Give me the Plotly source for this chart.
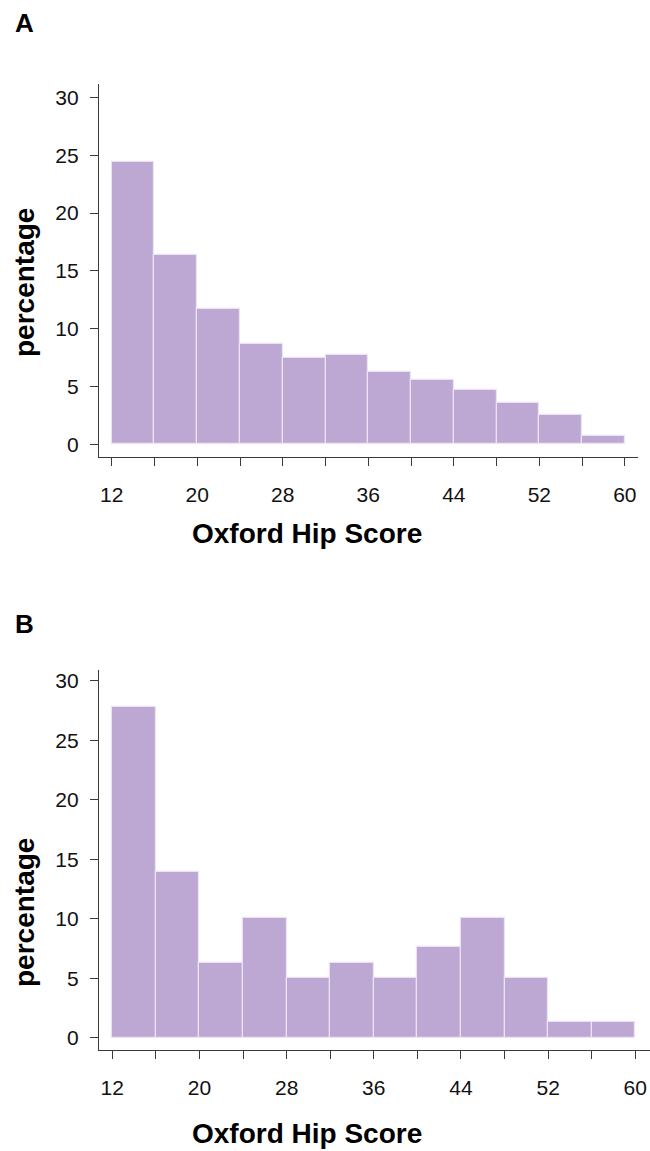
import plotly.graph_objects as go

W, H = 650, 1151

# Histogram bins (Oxford Hip Score), width 4
bin_left = [12, 16, 20, 24, 28, 32, 36, 40, 44, 48, 52, 56]
bin_width = 4

# Percentage of patients per bin
pct_a = [24.4, 16.4, 11.7, 8.7, 7.5, 7.7, 6.3, 5.6, 4.7, 3.6, 2.5, 0.7]
pct_b = [27.8, 13.9, 6.3, 10.1, 5.0, 6.3, 5.0, 7.6, 10.1, 5.0, 1.3, 1.3]

# Tick positions / labels
x_ticks = [12, 16, 20, 24, 28, 32, 36, 40, 44, 48, 52, 56, 60]
x_ticklabels = ["12", "", "20", "", "28", "", "36", "", "44", "", "52", "", "60"]
y_ticks = [0, 5, 10, 15, 20, 25, 30]

panel_labels = ["A", "B"]
x_title = "Oxford Hip Score"
y_title = "percentage"

BAR = "#bda7d3"
EDGE = "#ebe3f2"
AXIS = "#3a3a3a"
FONT = "Liberation Sans"

def px_x(p):
    return p / W

def px_y(p):
    return 1 - p / H

centers = [b + bin_width / 2 for b in bin_left]

fig = go.Figure()
fig.add_trace(go.Bar(x=centers, y=pct_a, width=bin_width, xaxis="x", yaxis="y",
                     marker=dict(color=BAR, line=dict(color=EDGE, width=1.2)),
                     showlegend=False))
fig.add_trace(go.Bar(x=centers, y=pct_b, width=bin_width, xaxis="x2", yaxis="y2",
                     marker=dict(color=BAR, line=dict(color=EDGE, width=1.2)),
                     showlegend=False))

common_x = dict(tickmode="array", tickvals=x_ticks, ticktext=x_ticklabels,
                ticks="outside", ticklen=8, tickwidth=1.2, tickcolor=AXIS,
                showline=True, linecolor=AXIS, linewidth=1.2,
                showgrid=False, zeroline=False, ticklabelstandoff=11,
                tickfont=dict(family=FONT, size=21, color="#111"))
common_y = dict(tickmode="array", tickvals=y_ticks,
                ticks="outside", ticklen=8, tickwidth=1.2, tickcolor=AXIS,
                showline=True, linecolor=AXIS, linewidth=1.2,
                showgrid=False, zeroline=False, ticklabelstandoff=7,
                tickfont=dict(family=FONT, size=21, color="#111"))

fig.update_layout(
    width=W, height=H,
    margin=dict(l=0, r=0, t=0, b=0),
    paper_bgcolor="white", plot_bgcolor="white",
    bargap=0,
    xaxis=dict(common_x, domain=[px_x(99), px_x(638)], range=[10.81, 61.23],
               anchor="y"),
    yaxis=dict(common_y, domain=[px_y(456.7), px_y(84)], range=[-1.07, 31.17],
               anchor="x"),
    xaxis2=dict(common_x, domain=[px_x(99), 1.0], range=[10.78, 61.35],
                anchor="y2"),
    yaxis2=dict(common_y, domain=[px_y(1050), px_y(670)], range=[-1.03, 30.9],
                anchor="x2"),
)

def text(x, y, s, size, angle=0):
    fig.add_annotation(x=px_x(x), y=px_y(y), xref="paper", yref="paper",
                       text=s, showarrow=False, textangle=angle,
                       xanchor="center", yanchor="middle", borderpad=0,
                       font=dict(family=FONT, size=size, color="#000"))

# Panel letters
text(24, 23, "<b>" + panel_labels[0] + "</b>", 26)
text(24, 624, "<b>" + panel_labels[1] + "</b>", 26)

# Axis titles
text(307, 533, "<b>" + x_title + "</b>", 28)
text(307, 1133, "<b>" + x_title + "</b>", 28)
text(24, 283, "<b>" + y_title + "</b>", 28, angle=-90)
text(24, 913, "<b>" + y_title + "</b>", 28, angle=-90)

fig.write_html("out.html")
